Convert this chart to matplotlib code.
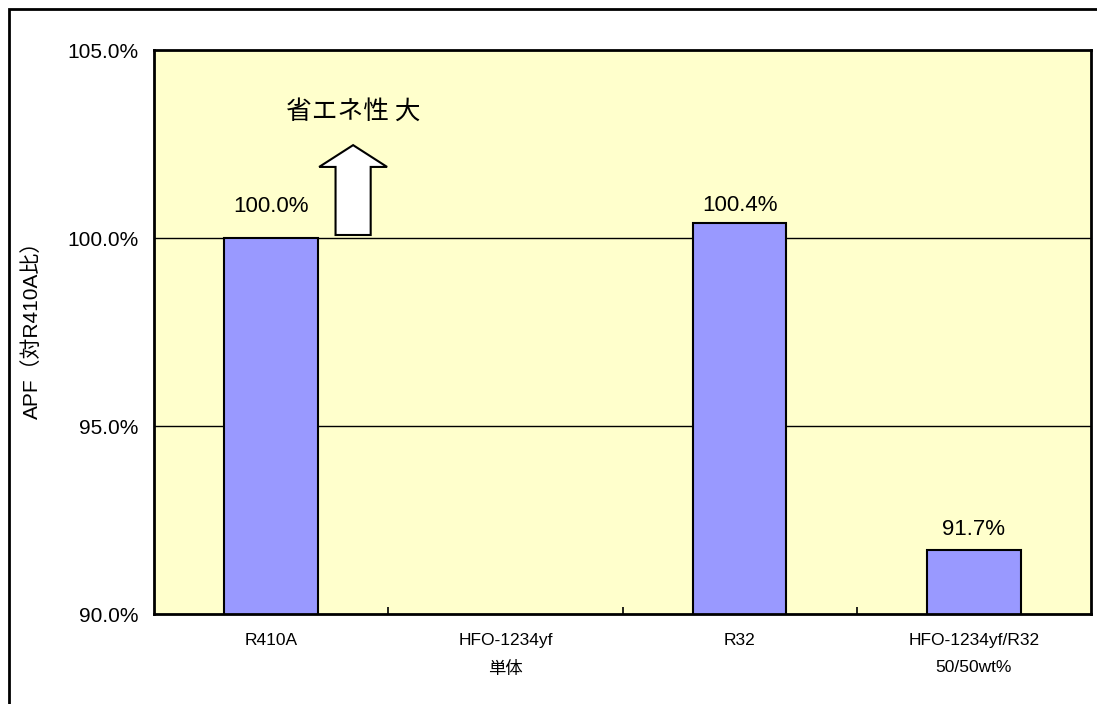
import matplotlib
matplotlib.use("Agg")
import matplotlib.pyplot as plt
from matplotlib.patches import Rectangle, FancyArrow
import numpy as np

categories = ["R410A", "HFO-1234yf\n単体", "R32", "HFO-1234yf/R32\n50/50wt%"]
apf_values = [100.0, np.nan, 100.4, 91.7]
value_labels = ["100.0%", "", "100.4%", "91.7%"]
ytick_values = [90, 95, 100, 105]
ytick_labels = ["90.0%", "95.0%", "100.0%", "105.0%"]

# label gap above each bar (style)
label_gap = [0.56, 0.0, 0.18, 0.27]

plt.rcParams['font.family'] = ['Liberation Sans', 'Noto Sans CJK JP']

W, H = 1097, 704
fig = plt.figure(figsize=(W / 100, H / 100), dpi=100)
fig.patch.set_facecolor("white")

# outer border
fig.add_artist(Rectangle((9 / W, -0.05), 1.2, 1 - 9 / H + 0.05, transform=fig.transFigure,
                         fill=False, edgecolor="black", linewidth=2))

ax = fig.add_axes([154 / W, 1 - 614 / H, (1091 - 154) / W, (614 - 50) / H])
ax.set_facecolor("#FFFFCC")

x = np.arange(len(categories))
ax.set_xlim(-0.5, len(categories) - 0.5)
ax.set_ylim(90, 105)

for yv in ytick_values[1:3]:
    ax.axhline(yv, color="black", linewidth=1.0, zorder=1)

ax.bar(x, apf_values, width=0.4, bottom=0, color="#9999FF", edgecolor="black",
       linewidth=1.5, zorder=2)

for xi, v, lab, g in zip(x, apf_values, value_labels, label_gap):
    if lab:
        ax.text(xi, v + g, lab, ha="center", va="bottom", fontsize=16, zorder=3)

ax.set_yticks(ytick_values)
ax.set_yticklabels(ytick_labels, fontsize=15)
ax.tick_params(axis="y", length=0, pad=11)

ax.set_xticks(x)
ax.set_xticklabels(categories, fontsize=12.5, linespacing=2.0)
ax.tick_params(axis="x", length=0, pad=14)
ax.set_xticks(x[:-1] + 0.5, minor=True)
ax.tick_params(axis="x", which="minor", direction="in", length=5, width=1.2, color="black")

for s in ax.spines.values():
    s.set_linewidth(2)
    s.set_color("black")

ax.set_ylabel("APF（対R410A比）", fontsize=15)
ax.yaxis.set_label_coords(-(154 - 42) / (1091 - 154), 0.512)

# arrow indicating better efficiency
ax.add_patch(FancyArrow(0.35, 100.08, 0, 2.39, width=0.15, head_width=0.29,
                        head_length=0.58, length_includes_head=True,
                        facecolor="white", edgecolor="black", linewidth=1.5, zorder=3))
ax.text(0.35, 103.35, "省エネ性 大", ha="center", va="center", fontsize=18.5,
        family=['Noto Sans CJK JP'], zorder=3)

fig.savefig("out.png", dpi=100)
